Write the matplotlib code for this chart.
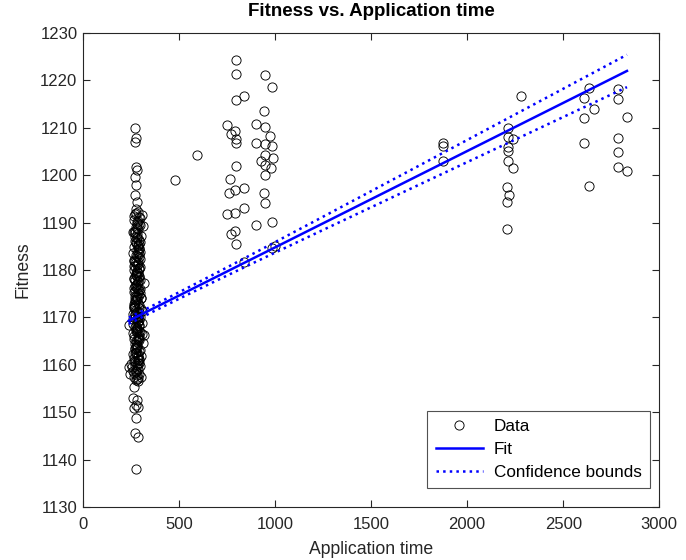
import numpy as np
import matplotlib
matplotlib.use("Agg")
import matplotlib.pyplot as plt

plt.rcParams['font.family'] = ['Liberation Sans', 'DejaVu Sans']

# ---- observations: application time vs. fitness ----
# short application times (~250-320), sparse tails
short_x = [272, 276, 270, 275, 279, 273, 277, 272, 280,
           268, 262, 283, 275, 266, 288, 278, 273, 286, 276,
           238, 240, 243, 250]
short_y = [1209.9, 1207.8, 1207.1, 1201.8, 1201.1, 1199.7, 1197.9, 1195.8, 1194.3,
           1155.3, 1153.1, 1152.6, 1151.5, 1150.8, 1151.2, 1148.8, 1145.6, 1144.8, 1138.1,
           1168.3, 1159.6, 1158.0, 1160.2]

# short application times, dense core
dense_x = [278, 284, 272, 290, 268, 281, 295, 275, 287, 263,
           283, 270, 292, 277, 286, 266, 280, 298, 274, 289,
           271, 285, 279, 293, 267, 282, 276, 291, 264, 288,
           280, 273, 296, 269, 284, 278, 301, 272, 287, 265,
           290, 276, 283, 270, 297, 279, 286, 262, 292, 274,
           281, 305, 268, 288, 276, 312, 283, 270, 294, 278,
           285, 264, 290, 272, 281, 257, 287, 275, 293, 268,
           280, 284,
           274, 289, 266, 283, 279, 271, 300, 286, 318, 277,
           292, 260, 269, 282, 276, 291, 264, 308, 285, 273,
           288, 280, 296, 315, 262, 283, 278, 271, 287, 294,
           266, 291, 279, 303, 270, 285, 259, 296, 274, 289,
           281, 267, 299, 276, 288, 263, 294, 280, 271, 306,
           284, 269, 292, 277, 261, 290, 282, 298, 273, 287,
           268, 295, 279, 264, 286, 275, 302, 270, 291, 283,
           258, 289, 276, 297, 272, 285, 266, 293, 280, 310,
           274, 288, 262, 296, 281, 270, 290, 278, 300, 267,
           286, 273, 294, 283, 260, 291, 277, 304, 269, 288,
           282, 265, 297, 275, 289, 271, 293, 279, 263, 286,
           276, 299, 268, 284, 292, 272, 281, 307, 266, 290]
dense_y = [1192.8, 1192.3, 1191.9, 1191.2, 1190.6, 1190.1, 1189.5, 1189.0, 1188.6, 1188.1,
           1187.5, 1187.0, 1186.4, 1186.0, 1185.3, 1184.9, 1184.2, 1183.8, 1183.1, 1182.7,
           1182.0, 1181.6, 1181.1, 1180.5, 1180.0, 1179.6, 1179.0, 1178.5, 1178.1, 1177.6,
           1177.0, 1176.6, 1176.1, 1175.5, 1175.1, 1174.6, 1174.0, 1173.6, 1173.1, 1172.5,
           1172.0, 1171.6, 1171.1, 1170.5, 1170.1, 1169.6, 1169.1, 1168.6, 1168.1, 1167.5,
           1167.0, 1166.6, 1166.0, 1165.5, 1165.1, 1164.6, 1164.0, 1163.5, 1163.0, 1162.6,
           1162.1, 1161.5, 1161.0, 1160.6, 1160.0, 1159.5, 1159.1, 1158.5, 1158.0, 1157.5,
           1157.0, 1156.5,
           1185.7, 1183.4, 1180.8, 1178.8, 1176.3, 1174.3, 1171.8, 1169.3, 1166.3, 1163.8,
           1161.3, 1158.8, 1188.3, 1186.7, 1179.3, 1175.8, 1172.8, 1168.8, 1165.8, 1164.3,
           1160.3, 1157.8, 1190.9, 1177.3, 1170.8, 1167.8, 1162.8, 1173.3, 1181.3, 1184.6,
           1191.5, 1189.8, 1188.9, 1187.2, 1186.2, 1185.0, 1183.6, 1182.4, 1181.8, 1180.2,
           1179.8, 1178.3, 1177.9, 1176.8, 1176.0, 1175.3, 1174.8, 1173.9, 1172.2, 1171.4,
           1170.3, 1169.9, 1168.4, 1167.2, 1166.8, 1165.2, 1164.8, 1163.2, 1162.4, 1161.7,
           1160.8, 1159.8, 1159.3, 1158.2, 1157.2, 1156.8, 1161.9, 1163.3, 1165.7, 1167.4,
           1169.7, 1171.2, 1173.7, 1175.2, 1177.8, 1179.4, 1181.9, 1184.4, 1186.9, 1189.3,
           1192.1, 1190.3, 1188.0, 1185.9, 1183.0, 1180.9, 1178.7, 1176.5, 1174.1, 1172.3,
           1170.0, 1168.0, 1166.1, 1164.1, 1162.2, 1160.4, 1158.6, 1157.4, 1159.9, 1161.1,
           1163.6, 1165.4, 1166.9, 1168.2, 1169.4, 1170.7, 1172.6, 1174.4, 1176.2, 1177.4,
           1178.9, 1180.7, 1182.2, 1183.9, 1185.5, 1187.8, 1189.7, 1191.7, 1171.9, 1167.1]

# medium application times (~480-1000)
mid_x = [796, 799, 946, 986, 799, 837, 941, 752, 790, 770,
         799, 799, 903, 946, 972, 903, 946, 986, 946, 989,
         929, 946, 981, 946, 596, 478, 799, 764, 790, 761,
         837, 941, 946, 837, 790, 752, 903, 986, 790, 770,
         799, 986, 1000, 837]
mid_y = [1224.3, 1221.4, 1221.1, 1218.7, 1215.9, 1216.7, 1213.5, 1210.6, 1209.4, 1208.8,
         1207.6, 1206.7, 1210.8, 1210.2, 1208.3, 1206.7, 1206.6, 1206.2, 1204.3, 1203.6,
         1202.9, 1202.2, 1201.5, 1200.0, 1204.3, 1199.0, 1201.9, 1199.3, 1196.9, 1196.2,
         1197.4, 1196.3, 1194.2, 1193.1, 1192.1, 1191.8, 1189.5, 1190.2, 1188.3, 1187.7,
         1185.4, 1184.6, 1185.0, 1181.8]

# long application times (~1870-2840)
long_x = [1872, 1872, 1872, 2281, 2212, 2212, 2238, 2212, 2212, 2212,
          2241, 2208, 2220, 2208, 2208, 2633, 2607, 2662, 2607, 2607,
          2633, 2787, 2787, 2832, 2787, 2787, 2787, 2832]
long_y = [1206.9, 1206.2, 1202.9, 1216.7, 1209.9, 1208.0, 1207.6, 1205.9, 1205.2, 1203.0,
          1201.5, 1197.6, 1195.8, 1194.4, 1188.6, 1218.5, 1216.2, 1213.9, 1212.0, 1206.9,
          1197.8, 1218.1, 1216.0, 1212.2, 1207.9, 1204.9, 1201.8, 1200.9]

# fitted line (poly1) and its 95% confidence band
fit_slope = 0.02032
fit_intercept = 1164.46
band_center = 330.0     # application time where the band is narrowest
band_min = 0.65         # half-width of the band at band_center
band_growth = 0.00134   # half-width growth per unit of application time

x = np.array(short_x + dense_x + mid_x + long_x, dtype=float)
y = np.array(short_y + dense_y + mid_y + long_y, dtype=float)

xf = np.linspace(x.min(), x.max(), 200)
yf = fit_intercept + fit_slope * xf
half = np.sqrt(band_min ** 2 + (band_growth * (xf - band_center)) ** 2)

# ---- figure ----
fig = plt.figure(figsize=(6.86, 5.6), dpi=100)
ax = fig.add_axes([0.121, 0.0946, 0.840, 0.8464])

ax.plot(x, y, 'o', mfc='none', mec='black', ms=6.6, mew=0.65, label='Data')
ax.plot(xf, yf, '-', color='blue', lw=1.8, label='Fit')
ax.plot(xf, yf + half, ':', color='blue', lw=1.8, label='Confidence bounds')
ax.plot(xf, yf - half, ':', color='blue', lw=1.8)

ax.set_xlim(0, 3000)
ax.set_ylim(1130, 1230)
ax.set_xticks(np.arange(0, 3001, 500))
ax.set_yticks(np.arange(1130, 1231, 10))

axis_col = '#262626'
for sp in ax.spines.values():
    sp.set_color(axis_col)
    sp.set_linewidth(0.8)
ax.tick_params(direction='in', length=5, width=0.8, color=axis_col,
               labelsize=12, labelcolor=axis_col, pad=4,
               top=True, right=True)
ax.tick_params(axis='x', pad=7)

ax.set_xlabel('Application time', fontsize=12.7, color=axis_col, labelpad=7)
ax.set_ylabel('Fitness', fontsize=12.7, color=axis_col, labelpad=6)
ax.set_title('Fitness vs. Application time', fontsize=13.5, fontweight='bold', pad=12)

leg = ax.legend(loc='lower right', fontsize=12.3, frameon=True, fancybox=False,
                edgecolor=axis_col, borderpad=0.5, handlelength=2.8,
                handletextpad=0.6, labelspacing=0.45, borderaxespad=0,
                bbox_to_anchor=(0.984, 0.040))
leg.get_frame().set_linewidth(0.8)

fig.savefig('out.png', dpi=100)
